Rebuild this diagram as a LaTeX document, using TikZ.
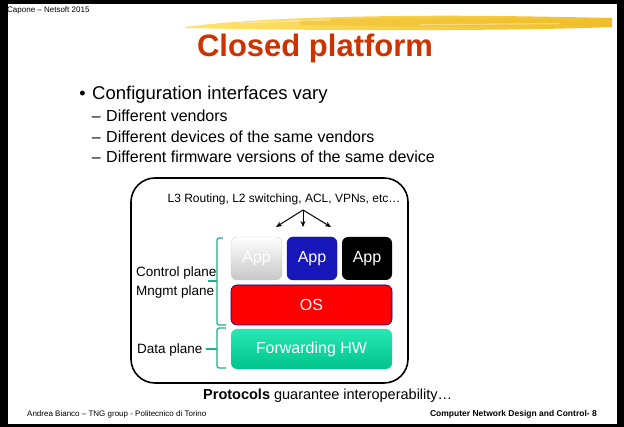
\documentclass[tikz,border=0pt]{standalone}
\usepackage{fontspec}
\setmainfont{Liberation Sans}
\usetikzlibrary{arrows.meta}
\definecolor{titlered}{RGB}{204,51,0}
\definecolor{brace}{RGB}{32,176,138}
\definecolor{brushA}{RGB}{255,226,110}
\definecolor{brushB}{RGB}{240,190,40}
\definecolor{appblue}{RGB}{22,22,185}
\definecolor{hwtop}{RGB}{40,232,180}
\definecolor{hwbot}{RGB}{0,196,140}
\newcommand{\fs}[1]{\fontsize{#1}{#1}\selectfont}
\begin{document}
\begin{tikzpicture}[x=1pt,y=-1pt,
  txt/.style={inner sep=0pt, anchor=west},
  bulletmark/.style={inner sep=0pt, anchor=base east},
  layer/.style={rounded corners=6pt, inner sep=0pt, text=white, font=\fs{16}},
  fork/.style={line width=1pt, -{Stealth[length=6pt,width=5pt]}},
  bracket/.style={draw=brace, line width=1.2pt, rounded corners=2pt}]
% slide frame
\fill[black] (0,0) rectangle (624,427);
\fill[white] (8,4) rectangle (617,424);
\useasboundingbox (0,0) rectangle (624,427);

% header text
\node[txt, font=\fs{8}] (hdr) at (7,10) {Capone -- Netsoft 2015};
\fill[black] (0,0) rectangle (8,427);

% yellow brush stroke
\shade[left color=brushA, right color=brushB]
  (185,27) .. controls (230,21) and (300,17) .. (400,16)
  .. controls (480,15) and (560,17) .. (612,18) -- (612,27)
  .. controls (520,31) and (320,31) .. (185,28) -- cycle;
\fill[brushB, opacity=0.5] (300,20) .. controls (400,17) and (500,18) .. (600,21)
  -- (600,25) .. controls (500,27) and (400,27) .. (300,25) -- cycle;
\fill[white, opacity=0.35] (240,22) -- (330,19) -- (330,20.5) -- (240,23.5) -- cycle;
\fill[white, opacity=0.35] (420,24) -- (560,23) -- (560,24.3) -- (420,25.3) -- cycle;

% title
\node[inner sep=0pt, text=titlered, font=\bfseries\fs{31}] (title) at (315,48) {Closed platform};

% bullet list
\node[txt, font=\fs{18.5}] (l0) at (92,95) {Configuration interfaces vary};
\node[bulletmark, font=\fs{18}] (b0) at ([xshift=-6pt]l0.base west) {•};
\node[txt, font=\fs{16}] (l1) at (106,116) {Different vendors};
\node[bulletmark, font=\fs{16}] (d1) at ([xshift=-5pt]l1.base west) {–};
\node[txt, font=\fs{16}] (l2) at (106,137) {Different devices of the same vendors};
\node[bulletmark, font=\fs{16}] (d2) at ([xshift=-5pt]l2.base west) {–};
\node[txt, font=\fs{16}] (l3) at (106,157) {Different firmware versions of the same device};
\node[bulletmark, font=\fs{16}] (d3) at ([xshift=-5pt]l3.base west) {–};

% device outline
\draw[line width=1.6pt, rounded corners=24pt] (131,178) rectangle (408,383);
\node[inner sep=0pt, font=\fs{12}] (feat) at (284,199) {L3 Routing, L2 switching, ACL, VPNs, etc…};

% software / hardware stack
\node[layer, draw=black!20, top color=white, bottom color=black!22, minimum width=51pt, minimum height=43pt] (app1) at (256.5,258.5) {App};
\node[layer, draw=appblue!80!black, fill=appblue, minimum width=50pt, minimum height=43pt] (app2) at (312,258.5) {App};
\node[layer, fill=black, minimum width=50pt, minimum height=43pt] (app3) at (367,258.5) {App};
\node[layer, draw=blue!60!black, line width=0.6pt, fill=red, minimum width=161pt, minimum height=40pt] (os) at (311.5,305) {OS};
\node[layer, top color=hwtop, bottom color=hwbot, minimum width=161pt, minimum height=40pt] (hw) at (311.5,349) {Forwarding HW};

% feature arrows
\coordinate (split) at (303,210);
\coordinate (t1) at (276,227);
\coordinate (t2) at (303,227);
\coordinate (t3) at (331,227);
\draw[fork] (split) -- (t1);
\draw[fork] (split) -- (t2);
\draw[fork] (split) -- (t3);

% plane brackets
\draw[bracket] (223,238) -- (217,238) -- (217,325) -- (226,325);
\draw[bracket] (217,281) -- (208,281);
\draw[bracket] (226,328) -- (217,328) -- (217,368) -- (226,368);
\draw[bracket] (217,349) -- (206,349);

\node[txt, font=\fs{13.5}] (cp) at (136,273) {Control plane};
\node[txt, font=\fs{13.5}] (mp) at (136,292) {Mngmt plane};
\node[txt, font=\fs{13.5}] (dp) at (137,350) {Data plane};

% closing remark and footer
\node[txt, font=\fs{14.5}] (proto) at (203,396) {\textbf{Protocols} guarantee interoperability…};
\node[txt, font=\fs{8}] (foot1) at (27,414) {Andrea Bianco -- TNG group - Politecnico di Torino};
\node[inner sep=0pt, anchor=east, font=\bfseries\fs{8.5}] (foot2) at (597,414) {Computer Network Design and Control- 8};
\end{tikzpicture}
\end{document}
